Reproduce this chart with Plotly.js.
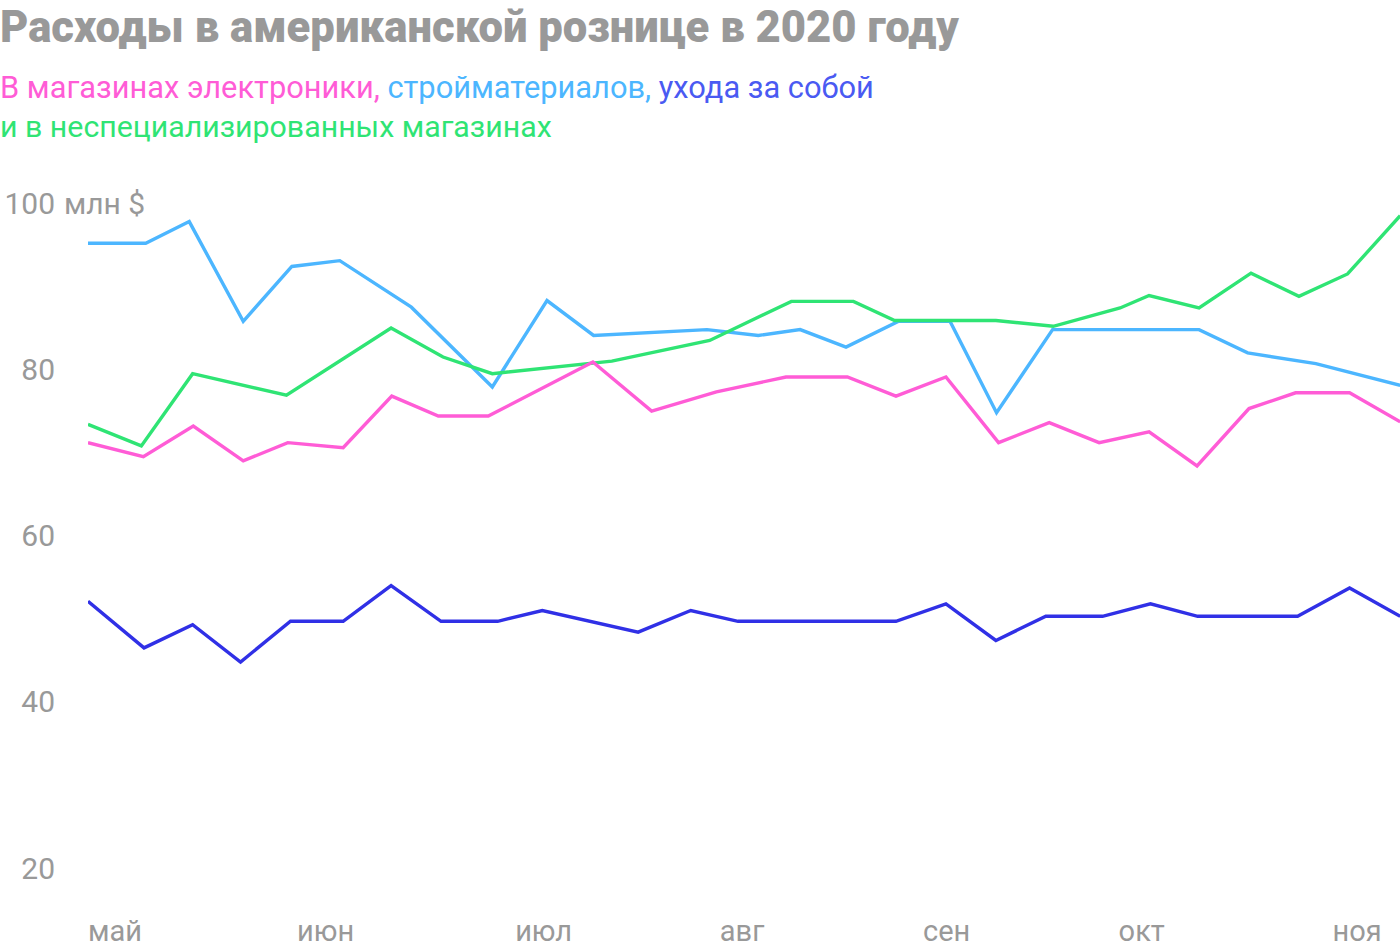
<!DOCTYPE html>
<html>
<head>
<meta charset="utf-8">
<script src="https://cdn.plot.ly/plotly-3.0.1.min.js"></script>
<style>
  html, body { margin: 0; padding: 0; background: #ffffff; }
  #chart { width: 1400px; height: 952px; }
</style>
</head>
<body>
<div id="chart"></div>
<script>
// ---- data (x = days from the first weekly reading, y = million $) ----
const electronicsDays = [0, 8.2, 15.6, 23.0, 29.6, 37.8, 45.0, 51.9, 59.3, 74.8, 83.5, 93.1, 103.4, 112.5, 119.7, 127.1, 134.9, 142.4, 149.8, 157.2, 164.3, 172.0, 178.9, 186.9, 194.4];
const electronicsValues = [71.2, 69.5, 73.2, 69.0, 71.2, 70.6, 76.8, 74.4, 74.4, 80.9, 75.0, 77.3, 79.1, 79.1, 76.8, 79.1, 71.2, 73.6, 71.2, 72.5, 68.4, 75.3, 77.2, 77.2, 73.7];

const buildingDays = [0, 8.55, 15.0, 23.0, 30.2, 37.3, 47.9, 59.9, 68.0, 74.9, 91.7, 99.3, 105.5, 112.3, 120.1, 127.7, 134.6, 142.9, 164.6, 171.8, 181.9, 194.4];
const buildingValues = [95.2, 95.2, 97.8, 85.8, 92.4, 93.1, 87.5, 77.9, 88.3, 84.1, 84.8, 84.1, 84.8, 82.7, 85.8, 85.8, 74.8, 84.8, 84.8, 82.0, 80.7, 78.1];

const careDays = [0, 8.3, 15.5, 22.6, 30.0, 37.8, 44.9, 52.3, 60.7, 67.3, 81.5, 89.3, 96.3, 119.7, 127.1, 134.5, 141.9, 150.3, 157.4, 164.4, 179.2, 186.9, 194.4];
const careValues = [52.1, 46.5, 49.3, 44.8, 49.7, 49.7, 54.0, 49.7, 49.7, 51.0, 48.4, 51.0, 49.7, 49.7, 51.8, 47.4, 50.3, 50.3, 51.8, 50.3, 50.3, 53.7, 50.3];

const generalDays = [0, 7.9, 15.5, 29.4, 44.9, 52.6, 59.9, 77.6, 92.1, 104.2, 113.4, 119.5, 134.5, 143.0, 152.9, 157.2, 164.6, 172.3, 179.4, 186.6, 194.4];
const generalValues = [73.4, 70.8, 79.5, 76.9, 85.0, 81.5, 79.5, 81.0, 83.5, 88.2, 88.2, 85.9, 85.9, 85.2, 87.4, 88.9, 87.4, 91.6, 88.8, 91.5, 98.5];

const monthLabels = ["май", "июн", "июл", "авг", "сен", "окт", "ноя"];
const monthDays = [4, 35.2, 67.5, 96.9, 127.2, 156.1, 188.0];
const yTickValues = [100, 80, 60, 40, 20];
const yTickLabels = ["100", "80", "60", "40", "20"];

const titleText = "Расходы в американской рознице в 2020 году";
const seriesNames = ["В магазинах электроники,", "стройматериалов,", "ухода за собой", "и в неспециализированных магазинах"];

// ---- styling ----
const PINK = "#ff5cd6";
const LIGHTBLUE = "#4cb6ff";
const DARKBLUE = "#3030e6";
const DARKBLUE_TEXT = "#4a5af2";
const GREEN = "#2fe474";
const GREY = "#999999";
const FONT = "Roboto, 'Noto Sans', sans-serif";

function line(x, y, color, name) {
  return {
    type: "scatter", mode: "lines", x: x, y: y, name: name,
    line: { color: color, width: 3.4, shape: "linear" },
    hoverinfo: "skip"
  };
}

const traces = [
  line(buildingDays, buildingValues, LIGHTBLUE, seriesNames[1]),
  line(generalDays, generalValues, GREEN, seriesNames[3]),
  line(electronicsDays, electronicsValues, PINK, seriesNames[0]),
  line(careDays, careValues, DARKBLUE, seriesNames[2])
];

const L = 88, PW = 1312, T = 180, PH = 720;
const px2paperX = p => (p - L) / PW;
const px2paperY = p => (T + PH - p) / PH;

const layout = {
  width: 1400, height: 952,
  margin: { l: L, r: 0, t: T, b: 952 - T - PH, pad: 0 },
  paper_bgcolor: "#ffffff", plot_bgcolor: "#ffffff",
  showlegend: false,
  font: { family: FONT, color: GREY, size: 28 },
  title: {
    text: titleText,
    font: { family: FONT, size: 43.6, weight: 900, color: GREY },
    xref: "container", x: 0, xanchor: "left",
    yref: "container", y: 1 - 27 / 952, yanchor: "middle"
  },
  xaxis: {
    range: [0, PW / 6.75],
    showgrid: false, zeroline: false, showline: false,
    tickmode: "array", tickvals: monthDays, ticktext: monthLabels,
    ticks: "", ticklabelstandoff: 11,
    tickfont: { family: FONT, size: 29, color: GREY },
    fixedrange: true
  },
  yaxis: {
    range: [(1034.3 - (T + PH)) / 8.31, (1034.3 - T) / 8.31],
    showgrid: false, zeroline: false, showline: false,
    tickmode: "array", tickvals: yTickValues, ticktext: yTickLabels,
    ticks: "", ticklabelstandoff: 32,
    tickfont: { family: FONT, size: 30, color: GREY },
    fixedrange: true
  },
  annotations: [
    {
      xref: "paper", yref: "y", x: px2paperX(62), y: 100,
      xanchor: "left", yanchor: "middle", showarrow: false,
      text: "млн $", font: { family: FONT, size: 30, color: GREY }
    },
    {
      xref: "paper", yref: "paper", x: px2paperX(-2), y: px2paperY(87),
      xanchor: "left", yanchor: "middle", showarrow: false, align: "left",
      text: '<span style="color:' + PINK + '">' + seriesNames[0] + '</span> ' +
            '<span style="color:' + LIGHTBLUE + '">' + seriesNames[1] + '</span> ' +
            '<span style="color:' + DARKBLUE_TEXT + '">' + seriesNames[2] + '</span>',
      font: { family: FONT, size: 30.8 }
    },
    {
      xref: "paper", yref: "paper", x: px2paperX(-2), y: px2paperY(126),
      xanchor: "left", yanchor: "middle", showarrow: false, align: "left",
      text: seriesNames[3],
      font: { family: FONT, size: 30.3, color: GREEN }
    }
  ]
};

Plotly.newPlot("chart", traces, layout, { displayModeBar: false, staticPlot: true });
</script>
</body>
</html>
